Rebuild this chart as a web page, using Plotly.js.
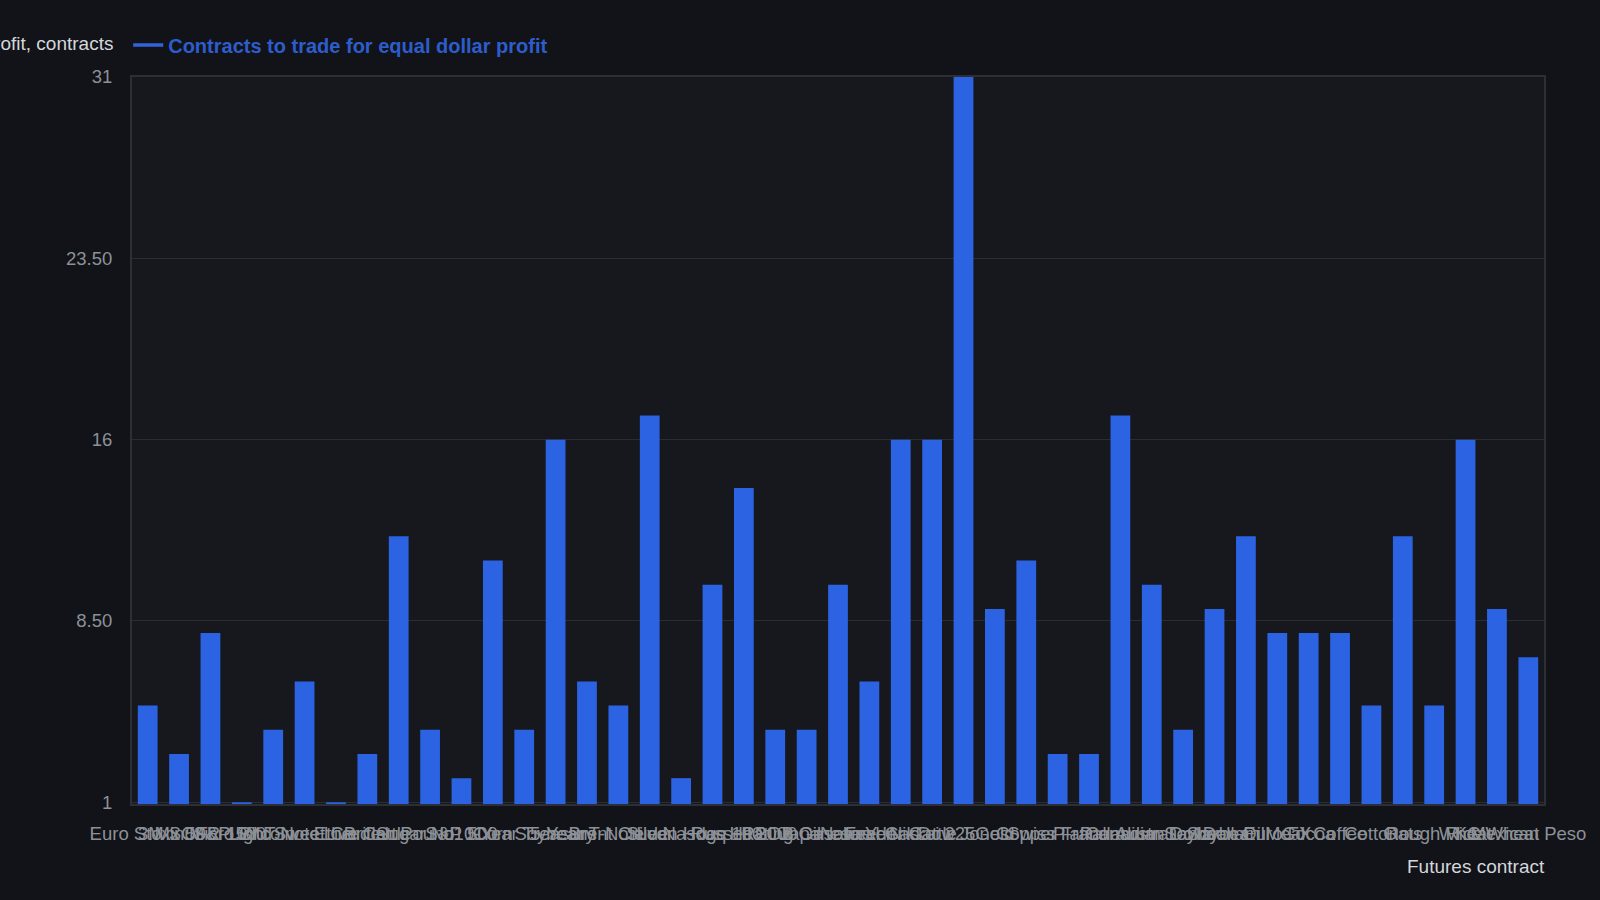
<!DOCTYPE html>
<html>
<head>
<meta charset="utf-8">
<script src="https://cdn.plot.ly/plotly-3.0.1.min.js"></script>
<style>
html,body{margin:0;padding:0;background:#111318;}
#chart{width:1600px;height:900px;}
</style>
</head>
<body>
<div id="chart"></div>
<script>
const contracts = [
  "Euro Stoxx 50","3M SOFR","Mini S&P 500","Micro Bitcoin","10Y T-Note",
  "Light Sweet Crude","Ether","Live Cattle","British Pound","Sugar No. 11",
  "S&P 500","Corn","10-Year Treasury","Soybeans","5-Year T-Note",
  "Brent Crude","Silver","Lean Hogs","Nasdaq 100","Russell 2000",
  "Heating Oil","RBOB Gasoline","Japanese Yen","Natural Gas","Feeder Cattle",
  "Nikkei 225","Dow Jones","Gold","Copper","Swiss Franc",
  "Platinum","Palladium","Canadian Dollar","Australian Dollar","Soybean Oil",
  "Soybean Meal","Euro FX","Cocoa","Coffee","Cotton",
  "Oats","Rough Rice","Wheat","KC Wheat","Mexican Peso"
];
const contractsToTrade = [
  5,3,8,1,4, 6,1,3,12,4, 2,11,4,16,6, 5,17,2,10,14,
  4,4,10,6,16, 16,31,9,11,3, 3,17,10,4,9, 12,8,8,8,5,
  12,5,16,9,7
];
const yTickVals = [1, 8.5, 16, 23.5, 31];
const yTickText = ["1", "8.50", "16", "23.50", "31"];
const seriesName = "Contracts to trade for equal dollar profit";
const yLabel = "Contracts for equal dollar profit, contracts";
const xLabel = "Futures contract";

const barColor = "#2b63e3";

const traces = [
  {
    type: "bar",
    x: contracts,
    y: contractsToTrade,
    marker: {color: barColor},
    showlegend: false,
    hoverinfo: "x+y",
    name: seriesName
  },
  {
    type: "scatter",
    mode: "lines",
    x: [null],
    y: [null],
    name: seriesName,
    line: {color: "#3164da", width: 3.5},
    showlegend: true,
    hoverinfo: "skip"
  }
];

const layout = {
  width: 1600,
  height: 900,
  paper_bgcolor: "#111318",
  plot_bgcolor: "#16181d",
  font: {family: "Liberation Sans, Arial, sans-serif", size: 18.5, color: "#8d9197"},
  margin: {l: 132, r: 56, t: 77, b: 96, autoexpand: false},
  bargap: 0.37,
  showlegend: true,
  legend: {
    orientation: "h",
    x: -0.0027, xanchor: "left",
    y: 1.044, yanchor: "middle",
    yref: "paper",
    font: {size: 20, color: "#2d5dcc", family: "Liberation Sans, Arial, sans-serif", weight: "bold"},
    bgcolor: "rgba(0,0,0,0)"
  },
  xaxis: {
    type: "category",
    tickangle: 0,
    automargin: false,
    showgrid: false,
    showline: true,
    linecolor: "#2c2f35",
    linewidth: 2,
    mirror: true,
    ticks: "",
    tickfont: {size: 18.5, color: "#8d9197"},
    ticklabelstandoff: 12,
    zeroline: false
  },
  yaxis: {
    range: [0.93, 31],
    tickmode: "array",
    tickvals: yTickVals,
    ticktext: yTickText,
    automargin: false,
    showgrid: true,
    gridcolor: "#2a2d34",
    gridwidth: 1,
    showline: true,
    linecolor: "#2c2f35",
    linewidth: 2,
    mirror: true,
    ticks: "",
    zeroline: false,
    tickfont: {size: 18.5, color: "#8d9197"},
    ticklabelstandoff: 14
  },
  annotations: [
    {
      text: yLabel,
      xref: "paper", yref: "paper",
      x: -0.0118, y: 1.0, xanchor: "right", yanchor: "bottom",
      yshift: 21,
      showarrow: false,
      font: {size: 19, color: "#d4d7db"}
    },
    {
      text: xLabel,
      xref: "paper", yref: "paper",
      x: 1, y: -0.0865, xanchor: "right", yanchor: "middle",
      xshift: 3,
      showarrow: false,
      font: {size: 19, color: "#d4d7db"}
    }
  ]
};

Plotly.newPlot("chart", traces, layout, {displayModeBar: false, responsive: false});
</script>
</body>
</html>
